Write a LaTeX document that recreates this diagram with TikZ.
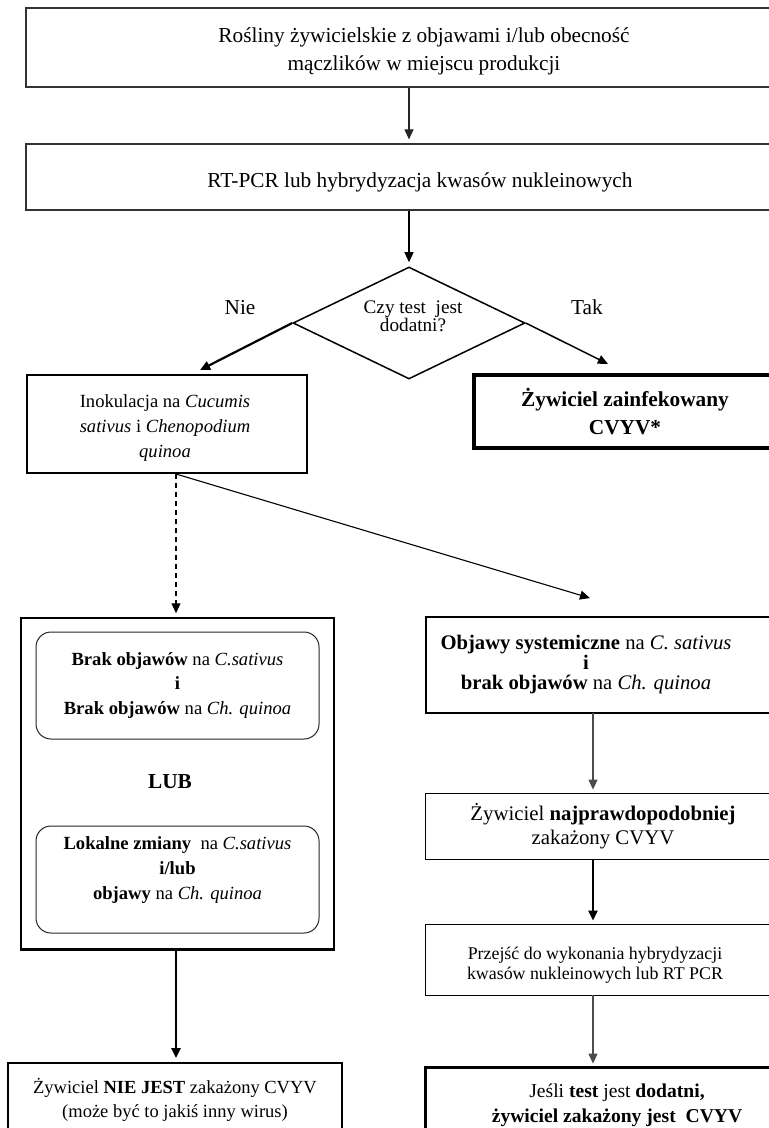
\documentclass[tikz,border=0pt]{standalone}
\usepackage{fontspec}
\setmainfont{Liberation Serif}
\usetikzlibrary{arrows.meta,shapes.geometric,positioning}

\newcommand{\boxfont}{\fontsize{10.65}{12.4}\selectfont}
\newcommand{\smallbox}{\fontsize{9.3}{12.3}\selectfont}

\tikzset{%
    flow box/.style={rectangle,draw,align=center,inner sep=0pt,font=\boxfont},
    open box/.style={rectangle,align=center,inner sep=0pt,font=\boxfont},
    box text/.style={align=center,inner sep=0pt,font=\boxfont},
    rule box/.style={rectangle,draw=black!85,rounded corners=7.5pt,align=center,
        inner sep=0pt,minimum width=141.5pt,minimum height=53.5pt,
        line width=0.5pt,font=\smallbox}
}

\begin{document}
\begin{tikzpicture}[x=0.5pt,y=-0.5pt,>={Triangle[length=5pt,width=4.5pt]},
  arr/.style={->,shorten >=2pt,line width=0.55pt},
  decision/.style={diamond,draw,aspect=2,inner sep=0pt,
    minimum width=116pt,minimum height=56pt,line width=0.75pt}]

  \useasboundingbox (0,0) rectangle (769,1128);
  \clip (0,0) rectangle (769,1128);

  \coordinate (lx) at (176,0);
  \coordinate (rx) at (593,0);
  \coordinate (edge) at (800,0);
  \coordinate (nieend) at (196.5,371.8);
  \coordinate (takend) at (611.5,365.7);
  \coordinate (sysend) at (593.8,599.2);

  \node[flow box,minimum width=396pt,minimum height=39.5pt,draw=black!80,
    line width=0.6pt] (start) at (422,47.5) {};
  \node[box text,font=\fontsize{10.65}{14}\selectfont] (starttext) at (424,51)
    {Rośliny żywicielskie z objawami i/lub obecność\\mączlików w miejscu produkcji};
  \node[flow box,minimum width=396pt,minimum height=33pt,draw=black!80,
    line width=0.6pt] (test) at (422,177) {};
  \node[box text] (testtext) at (420,182)
    {RT-PCR lub hybrydyzacja kwasów nukleinowych};

  \node[decision] (query) at (409,323) {};
  \node[box text,font=\fontsize{9.6}{9}\selectfont] (querytext)
    at (413,316) {Czy test\ \ jest\\dodatni?};
  \node[font=\boxfont] (nie) at (240,308) {Nie};
  \node[font=\boxfont] (tak) at (587,307) {Tak};

  \node[flow box,minimum width=140pt,minimum height=49pt,line width=1pt] (inoc)
    at (167,424) {};
  \node[box text,font=\fontsize{9.3}{12.5}\selectfont] (inoctext) at (165,428)
    {Inokulacja na \textit{Cucumis}\\\textit{sativus} i
    \textit{Chenopodium}\\\textit{quinoa}};
  \node[flow box,minimum width=151pt,minimum height=36.5pt,line width=1.75pt,
    font=\fontsize{10.65}{13.75}\selectfont\bfseries] (positive) at (625,411.5)
    {Żywiciel zainfekowany\\CVYV*};

  % lewa kolumna
  \node[flow box,minimum width=156.5pt,minimum height=165.5pt,line width=0.75pt]
    (negbox) at (177.5,783.5) {};
  \node[rule box] (round1) at (177.5,685.5)
    {\textbf{Brak objawów} na \textit{C.sativus}\\\textbf{i}\\
    \textbf{Brak objawów} na \textit{Ch. quinoa}};
  \node[font=\boxfont\bfseries] (lub) at (170,782) {LUB};
  \node[rule box] (round2) at (177.5,879.5) {};
  \node[box text,font=\smallbox] (round2text) at (177.5,870)
    {\textbf{Lokalne zmiany}\ \ na \textit{C.sativus}\\\textbf{i/lub}\\
    \textbf{objawy} na \textit{Ch. quinoa}};
  \node[flow box,minimum width=167pt,minimum height=37pt,line width=0.9pt,
    font=\fontsize{9.25}{12}\selectfont] (negresult) at (175,1100)
    {Żywiciel \textbf{NIE JEST} zakażony CVYV\\(może być to jakiś inny wirus)};

  % prawa kolumna
  \node[open box,minimum width=160pt,minimum height=48pt,
    font=\fontsize{10.33}{10}\selectfont] (sys)
    at (586,665) {\textbf{Objawy systemiczne} na \textit{C. sativus}\\\textbf{i}\\
    \textbf{brak objawów} na \textit{Ch. quinoa}};
  \node[open box,minimum width=177pt,minimum height=32.5pt,
    font=\fontsize{10.4}{12}\selectfont] (likely)
    at (603,826.5) {Żywiciel \textbf{najprawdopodobniej}\\zakażony CVYV};
  \node[open box,minimum width=169pt,minimum height=35pt] (przejsc)
    at (595,960) {};
  \node[box text,font=\fontsize{8.93}{10}\selectfont] (przejsctext) at (595,965)
    {Przejść do wykonania hybrydyzacji\\kwasów nukleinowych lub RT PCR};
  \node[open box,minimum width=191pt,minimum height=37.5pt,
    font=\fontsize{9.8}{12.5}\selectfont] (final)
    at (617,1105.5) {Jeśli \textbf{test} jest \textbf{dodatni,}\\
    \textbf{żywiciel zakażony jest\ \ CVYV}};

  \draw[line width=1pt] (sys.north west) rectangle (sys.south -| edge);
  \draw[line width=0.85pt] (likely.north west) rectangle (likely.south -| edge);
  \draw[line width=0.55pt] (przejsc.north west) rectangle (przejsc.south -| edge);
  \draw[line width=1.5pt] (final.north west) rectangle (final.south -| edge);
  \draw[line width=1.5pt] (negbox.south west) -- (negbox.south east);

  \path
    (start.south -| query.north) edge[arr,draw=black!85] (test.north -| query.north)
    (test.south -| query.north) edge[arr] (query.north)
    (query.west) edge[arr,line width=1.1pt] (nieend)
    (query.east) edge[arr,line width=0.75pt] (takend)
    (inoc.south -| lx) edge[arr,dash pattern=on 2.5pt off 2pt] (negbox.north -| lx)
    (inoc.south -| lx) edge[arr] (sysend)
    (negbox.south -| lx) edge[arr,line width=1.1pt] (negresult.north -| lx)
    (sys.south -| rx) edge[arr,draw=black!70] (likely.north -| rx)
    (likely.south -| rx) edge[arr,line width=1.1pt] (przejsc.north -| rx)
    (przejsc.south -| rx) edge[arr,draw=black!70] (final.north -| rx);
\end{tikzpicture}
\end{document}
